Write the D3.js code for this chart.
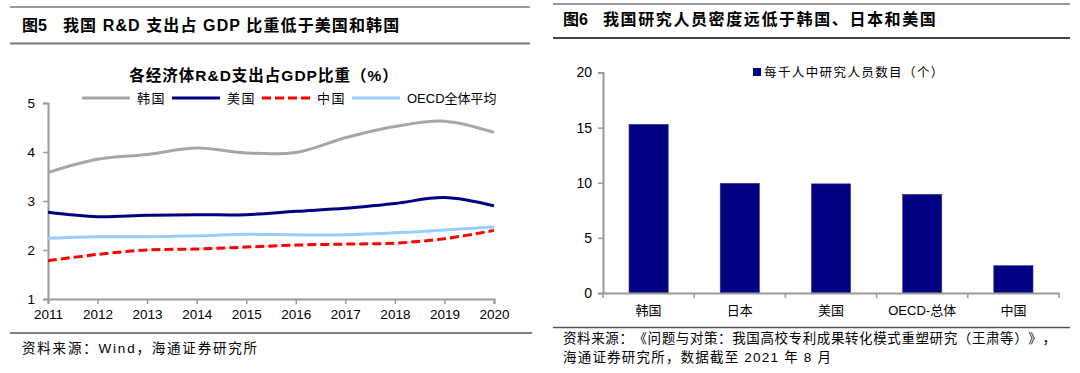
<!DOCTYPE html>
<html><head><meta charset="utf-8">
<script src="https://cdn.jsdelivr.net/npm/d3@7"></script>
<style>
html,body{margin:0;padding:0;background:#fff;}
svg{display:block;}
text{font-family:"Liberation Sans",Arial,"Noto Sans CJK SC",sans-serif;fill:#000;text-spacing-trim:space-all;}
</style></head>
<body>
<svg id="c" width="1080" height="373"></svg>
<script>
// ---- Data: Figure 5 ----
const years = [2011,2012,2013,2014,2015,2016,2017,2018,2019,2020];
const korea = [3.58,3.85,3.95,4.08,3.98,3.99,4.29,4.52,4.63,4.40];
const usa   = [2.77,2.68,2.71,2.72,2.72,2.79,2.85,2.95,3.07,2.90];
const china = [1.78,1.91,2.00,2.02,2.06,2.10,2.12,2.14,2.23,2.40];
const oecd  = [2.24,2.27,2.27,2.29,2.32,2.31,2.31,2.35,2.41,2.47];
const seriesNames = ["韩国","美国","中国","OECD全体平均"];
const yTicksL = [1,2,3,4,5];
// ---- Data: Figure 6 ----
const categories = ["韩国","日本","美国","OECD-总体","中国"];
const researchers = [15.3,9.95,9.9,8.95,2.48];
const yTicksR = [0,5,10,15,20];

const svg = d3.select("#c");
svg.append("rect").attr("width",1080).attr("height",373).attr("fill","#fff");

// ---------- Frame / headers ----------
function hline(x1,x2,y,w,c){svg.append("line").attr("x1",x1).attr("x2",x2).attr("y1",y).attr("y2",y).attr("stroke",c).attr("stroke-width",w);}
hline(10,530,7,1.5,"#777");
hline(10,530,43.5,2,"#777");
hline(10,532,333,1.5,"#555");
hline(553,1070,4,1.5,"#777");
hline(553,1070,38,2,"#444");
hline(553,1070,327.5,1.5,"#555");

const t5 = svg.append("text").attr("y",31).attr("font-size",16).attr("font-weight","bold");
t5.append("tspan").attr("x",22).text("图5");
t5.append("tspan").attr("x",63).style("letter-spacing","1.1px").text("我国 R&D 支出占 GDP 比重低于美国和韩国");
const t6 = svg.append("text").attr("y",25).attr("font-size",16).attr("font-weight","bold");
t6.append("tspan").attr("x",563).text("图6");
t6.append("tspan").attr("x",603).style("letter-spacing","1.6px").text("我国研究人员密度远低于韩国、日本和美国");

svg.append("text").attr("x",22).attr("y",353).attr("font-size",13.5).style("letter-spacing","1.8px")
  .attr("fill","#222").text("资料来源：Wind，海通证券研究所");
svg.append("text").attr("x",563).attr("y",343).attr("font-size",13.5).style("letter-spacing","0.6px")
  .attr("fill","#222").text("资料来源：《问题与对策：我国高校专利成果转化模式重塑研究（王肃等）》，");
svg.append("text").attr("x",563).attr("y",362).attr("font-size",13.5).style("letter-spacing","1.2px")
  .attr("fill","#222").text("海通证券研究所，数据截至 2021 年 8 月");

// ---------- Left chart ----------
const xL = d3.scaleLinear().domain([2011,2020]).range([48,494]);
const yL = d3.scaleLinear().domain([1,5]).range([299,103]);
const axisColor = "#999";

const gyL = svg.append("g").attr("transform","translate(48,0)")
  .call(d3.axisLeft(yL).tickValues(yTicksL).tickSize(5).tickPadding(8).tickFormat(d3.format("d")));
const gxL = svg.append("g").attr("transform","translate(0,299)")
  .call(d3.axisBottom(xL).tickValues(years).tickSize(5).tickPadding(4).tickFormat(d3.format("d")));
[gyL,gxL].forEach(g=>{
  g.select(".domain").attr("stroke",axisColor).attr("stroke-width",2);
  g.selectAll(".tick line").attr("stroke",axisColor).attr("stroke-width",1.5);
  g.selectAll(".tick text").attr("font-size",13.5).attr("fill","#000")
   .attr("font-family","'Liberation Sans',Arial,sans-serif");
});
gxL.selectAll(".tick text").attr("dy","0.85em");

svg.append("text").attr("x",264).attr("y",81).attr("text-anchor","middle").attr("font-size",15.5)
  .attr("font-weight","bold").style("letter-spacing","1px").text("各经济体R&D支出占GDP比重（%）");

const seriesData = [korea,usa,china,oecd];
const colors = ["#A6A6A6","#000080","#FF0000","#99CCFF"];
const dashes = [null,null,"9,4",null];
const line = d3.line().x((d,i)=>xL(years[i])).y(d=>yL(d)).curve(d3.curveCatmullRom.alpha(0.5));
// draw order: oecd, china, usa, korea
[3,2,1,0].forEach(k=>{
  svg.append("path").attr("d",line(seriesData[k])).attr("fill","none")
    .attr("stroke",colors[k]).attr("stroke-width",3).attr("stroke-dasharray",dashes[k]);
});

// legend
const legX = [82,172,262,352];
seriesNames.forEach((n,k)=>{
  svg.append("line").attr("x1",legX[k]).attr("x2",legX[k]+48).attr("y1",98).attr("y2",98)
    .attr("stroke",colors[k]).attr("stroke-width",3).attr("stroke-dasharray",dashes[k]);
  svg.append("text").attr("x",legX[k]+55).attr("y",102.5).attr("font-size",13)
    .style("letter-spacing", k<3 ? "1.5px":"0px").attr("fill","#222").text(n);
});

// ---------- Right chart ----------
const xR = d3.scaleBand().domain(categories).range([603,1059]).paddingInner(0.57).paddingOuter(0.285);
const yR = d3.scaleLinear().domain([0,20]).range([293,72.5]);

svg.selectAll("rect.bar").data(researchers).enter().append("rect").attr("class","bar")
  .attr("x",(d,i)=>xR(categories[i])).attr("width",xR.bandwidth())
  .attr("y",d=>yR(d)).attr("height",d=>yR(0)-yR(d))
  .attr("fill","#000080").attr("stroke","#3a3aa0").attr("stroke-width",0.6);

const xRaxis = d3.scaleBand().domain(categories).range([603,1059]);
const gyR = svg.append("g").attr("transform","translate(603,0)")
  .call(d3.axisLeft(yR).tickValues(yTicksR).tickSize(5).tickPadding(6));
const gxR = svg.append("g").attr("transform","translate(0,293)")
  .call(d3.axisBottom(xRaxis).tickSize(0).tickPadding(10));
// boundary ticks
const bounds = categories.map(c=>xRaxis(c)).concat([1059]);
svg.selectAll("line.bt").data(bounds).enter().append("line").attr("class","bt")
  .attr("x1",d=>d).attr("x2",d=>d).attr("y1",293).attr("y2",298).attr("stroke",axisColor).attr("stroke-width",1.5);
[gyR,gxR].forEach(g=>{
  g.select(".domain").attr("stroke",axisColor).attr("stroke-width",2);
  g.selectAll(".tick line").attr("stroke",axisColor).attr("stroke-width",1.5);
  g.selectAll(".tick text").attr("fill","#000").attr("font-family","'Liberation Sans',Arial,'Noto Sans CJK SC',sans-serif");
});
gyR.selectAll(".tick text").attr("font-size",14);
gxR.selectAll(".tick text").attr("font-size",13).attr("dy","0.9em").attr("fill","#222");

// legend right
svg.append("rect").attr("x",753).attr("y",68).attr("width",8).attr("height",8).attr("fill","#000080");
svg.append("text").attr("x",764).attr("y",77).attr("font-size",12.5).style("letter-spacing","1.4px")
  .attr("fill","#222").text("每千人中研究人员数目（个）");
</script>
</body></html>
